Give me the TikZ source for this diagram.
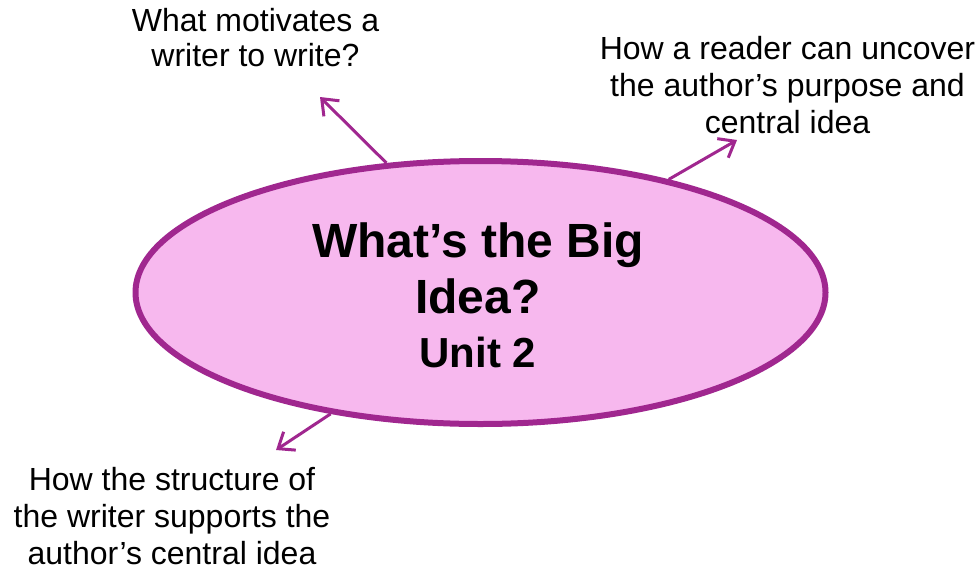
\documentclass[tikz,border=0pt]{standalone}
\usepackage{fontspec}
\setmainfont{Liberation Sans}
\usepackage{tikz}
\usetikzlibrary{shapes}
\usetikzlibrary{arrows.meta}
\usetikzlibrary{positioning}
\definecolor{ideaborder}{HTML}{A0278F}
\definecolor{ideafill}{HTML}{F7B8EE}
\begin{document}
\begin{tikzpicture}[x=1pt,y=-1pt]
\tikzstyle{bigidea}=[ellipse,draw=ideaborder,fill=ideafill,line width=6pt,
inner sep=0pt,minimum width=690pt,minimum height=263pt]
\tikzstyle{question}=[align=center,inner sep=0pt,font=\fontsize{32}{37}\selectfont]
\tikzstyle{pointer}=[draw=ideaborder,line width=3pt,-{Straight Barb[length=14pt,width=22pt,line width=3pt]}]
\useasboundingbox (0,0) rectangle (976,570);
\node[bigidea] (idea) at (480.5,292.5) {};
\node[align=center,inner sep=0pt,font=\bfseries\fontsize{48}{56}\selectfont] (title) at (478,268) {What’s the Big\\Idea?};
\node[inner sep=0pt,font=\bfseries\fontsize{42}{48}\selectfont] (unit) at (478,352) {Unit 2};
\node[question,font=\fontsize{32}{35}\selectfont] (motive) at (255.5,38) {What motivates a\\writer to write?};
\node[question] (uncover) at (787.5,85) {How a reader can uncover\\the author’s purpose and\\central idea};
\node[question] (structure) at (172,516) {How the structure of\\the writer supports the\\author’s central idea};
\coordinate (motive end) at (320,97);
\coordinate (uncover end) at (737,140);
\coordinate (structure end) at (276,450);
\draw[pointer] (idea.126) -- (motive end);
\draw[pointer] (idea.31) -- (uncover end);
\draw[pointer] (idea.219) -- (structure end);
\end{tikzpicture}
\end{document}
